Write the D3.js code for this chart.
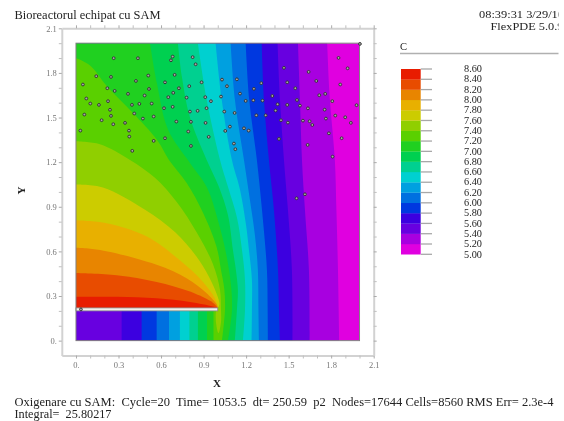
<!DOCTYPE html>
<html><head><meta charset="utf-8">
<script src="https://cdn.jsdelivr.net/npm/d3@7/dist/d3.min.js"></script>
<style>
html,body{margin:0;padding:0;background:#fff;overflow:hidden}
svg{display:block;filter:blur(0.35px)}
text{font-family:"Liberation Serif",serif;white-space:pre}
</style></head><body><svg id="c" width="564" height="421"></svg>
<script>
// ---------- text ----------
const titleText = "Bioreactorul echipat cu SAM";
const stampText = "08:39:31 3/29/10";
const versionText = "FlexPDE 5.0.9";
const legendTitle = "C";
const footerLine1 = "Oxigenare cu SAM:  Cycle=20  Time= 1053.5  dt= 250.59  p2  Nodes=17644 Cells=8560 RMS Err= 2.3e-4";
const footerLine2 = "Integral=  25.80217";
const xTitle = "X", yTitle = "Y";
// ---------- axes ----------
const tickValues = [0,.1,.2,.3,.4,.5,.6,.7,.8,.9,1,1.1,1.2,1.3,1.4,1.5,1.6,1.7,1.8,1.9,2,2.1];
const labelledTicks = [0,.3,.6,.9,1.2,1.5,1.8,2.1];
const legendLabels = [8.6,8.4,8.2,8.0,7.8,7.6,7.4,7.2,7.0,6.8,6.6,6.4,6.2,6.0,5.8,5.6,5.4,5.2,5.0];
// band colours, from 5.0-5.2 upward
const bandColors = ["#e000e0","#a800e0","#6800e0","#3c00e0","#0038e0","#0070e0","#00a0e0","#00d0d0","#00d090","#00d050","#20d020","#5ad000","#90cf00","#cccc00","#e8b000","#e88500","#e84c00","#e81c00"];
// ---------- contour boundaries [x,y]; "main" runs from top/left edge down, "under" is the branch below the plate ----------
const c52 = [[1.772,2],[1.791,1.62],[1.826,1.215],[1.837,.88],[1.848,.475],[1.857,0]];
const c54 = [[1.566,2],[1.58,1.62],[1.594,1.215],[1.615,.88],[1.643,.475],[1.648,0]];
const c56 = [[1.422,2],[1.439,1.62],[1.467,1.215],[1.495,.88],[1.523,.475],[1.527,0]];
const c58 = [[1.31,2],[1.326,1.62],[1.361,1.215],[1.396,.88],[1.425,.475],[1.432,.205],[1.439,0]];
const c60 = [[1.197,2],[1.222,1.62],[1.276,1.215],[1.312,.88],[1.347,.475],[1.352,.205],[1.354,0]];
const c62 = [[1.091,2],[1.121,1.62],[1.185,1.215],[1.227,.945],[1.262,.71],[1.283,.475],[1.287,.205],[1.291,0]];
const c64 = [[.985,2],[1.028,1.62],[1.10,1.215],[1.157,1.015],[1.199,.78],[1.22,.61],[1.241,.41],[1.241,.205],[1.239,0]];
const c66 = [[.86,2],[.922,1.62],[1.016,1.215],[1.072,1.035],[1.135,.83],[1.171,.61],[1.192,.41],[1.192,.205],[1.178,0]];
const c68 = [[.719,2],[.748,1.77],[.804,1.50],[.922,1.215],[1.008,1.035],[1.072,.845],[1.107,.61],[1.128,.475],[1.142,.34],[1.135,.205],[1.121,0]];
const c70 = [[.522,2],[.571,1.73],[.649,1.42],[.804,1.195],[.924,1.03],[1.001,.81],[1.058,.59],[1.093,.375],[1.10,.205],[1.072,0]];
const c72 = [[0,1.90],[.099,1.85],[.219,1.71],[.402,1.53],[.571,1.35],[.656,1.215],[.781,1.06],[.896,.86],[.992,.63],[1.023,.475],[1.047,.34],[1.051,.205],[1.03,0]];
const c74 = [[0,1.34],[.169,1.32],[.381,1.215],[.557,1.095],[.712,.93],[.853,.725],[.966,.515],[1.016,.34],[1.023,.205],[1.023,.125],[1.005,.05],[.987,.125],[.987,.2]];
const c76 = [[0,1.05],[.19,1.03],[.487,.88],[.698,.73],[.846,.57],[.938,.43],[.994,.31],[1.012,.245],[1,.22]];
const c78 = [[0,.81],[.216,.79],[.5,.70],[.733,.54],[.896,.395],[.98,.285],[1,.22]];
const c80 = [[0,.625],[.17,.61],[.569,.51],[.78,.42],[.92,.32],[.995,.24],[1,.22]];
const c82 = [[0,.455],[.287,.44],[.569,.395],[.804,.33],[.966,.255],[1,.22]];
const c84 = [[0,.295],[.287,.295],[.569,.285],[.804,.26],[.966,.23],[1,.22]];
const mainCurves = [c52,c54,c56,c58,c60,c62,c64,c66,c68,c70,c72,c74,c76,c78,c80,c82,c84];
// x of each contour on its branch below the plate (null: none)
const underX = [0,0,.322,.463,.569,.656,.733,.80,.86,.924,.97,null,null,null,null,null,null];
const plateLeft = 0, plateRight = 1, plateBottom = .2, plateTop = .22, domainMax = 2;
// ---------- points (particles) ----------
const pointsX = [.266,.437,.682,.670,.823,.844,.143,.247,.510,.423,.696,.049,.628,.886,.799,.221,.273,.515,.726,.367,.686,.484,.073,.226,.651,.780,.912,1.023,.101,.162,.395,.447,.534,.240,.621,.682,.804,.858,.921,.952,.059,.247,.411,.472,.548,.181,.263,.346,.708,.811,.914,.031,.374,.792,.376,.628,.548,.936,.811,.397,1.030,1.135,1.065,1.157,1.197,1.251,1.316,1.385,1.422,1.255,1.307,1.046,1.119,1.272,1.338,1.408,1.446,1.086,1.053,1.185,1.218,1.432,1.114,1.124,2.003,1.852,1.916,1.467,1.641,1.695,1.490,1.864,1.547,1.758,1.716,1.559,1.808,1.490,1.580,1.636,1.754,1.979,1.829,1.763,1.899,1.939,1.495,1.601,1.648,1.667,1.784,1.874,1.634,1.810,1.615,1.556,.035];
const pointsY = [1.899,1.899,1.910,1.885,1.906,1.858,1.778,1.773,1.782,1.746,1.787,1.722,1.737,1.737,1.711,1.697,1.679,1.692,1.697,1.659,1.666,1.648,1.628,1.610,1.637,1.634,1.637,1.641,1.594,1.585,1.585,1.592,1.594,1.552,1.563,1.572,1.540,1.545,1.563,1.610,1.520,1.511,1.527,1.493,1.507,1.482,1.455,1.464,1.473,1.471,1.464,1.412,1.412,1.406,1.372,1.361,1.343,1.370,1.309,1.276,1.755,1.757,1.711,1.661,1.612,1.616,1.614,1.645,1.589,1.693,1.731,1.540,1.531,1.515,1.515,1.547,1.482,1.439,1.410,1.428,1.412,1.356,1.325,1.287,1.995,1.901,1.831,1.834,1.807,1.746,1.737,1.722,1.697,1.659,1.650,1.618,1.610,1.585,1.580,1.562,1.553,1.583,1.513,1.493,1.502,1.464,1.466,1.479,1.475,1.450,1.394,1.361,1.316,1.237,.984,.957,.21];

const svg = d3.select("#c");
const x = d3.scaleLinear().domain([-.1,2.1]).range([61.8,373.7]);
const y = d3.scaleLinear().domain([-.1,2.1]).range([355.5,28.3]);
const lg = d3.scaleLinear().domain([5,8.6]).range([254.3,69]);
const grey = "#d2d2d2", labelGrey = "#777";

function text(s,px,py,size,opt={}){
  const t = svg.append("text").attr("x",px).attr("y",py).attr("font-size",size).attr("fill",opt.fill||"#222").text(s);
  if(opt.len) t.attr("textLength",opt.len).attr("lengthAdjust","spacingAndGlyphs");
  if(opt.anchor) t.attr("text-anchor",opt.anchor);
  if(opt.weight) t.attr("font-weight",opt.weight);
  return t;
}
// clip
const defs = svg.append("defs");
defs.append("clipPath").attr("id","plot").append("rect")
  .attr("x",x(0)).attr("y",y(domainMax)).attr("width",x(domainMax)-x(0)).attr("height",y(0)-y(domainMax));
defs.append("clipPath").attr("id","page").append("rect").attr("x",0).attr("y",0).attr("width",558.5).attr("height",421);

// axes
function styleAxis(g){
  g.select(".domain").attr("stroke",grey).attr("stroke-width",2);
  g.selectAll(".tick line").attr("stroke",d=>labelledTicks.some(v=>Math.abs(v-d)<1e-6)?"#aaa":"#c0c0c0")
    .attr("stroke-width",1);
  g.selectAll(".tick text").attr("font-family","Liberation Serif").attr("font-size",8.5).attr("fill",labelGrey);
}
const fmt = d => labelledTicks.some(v=>Math.abs(v-d)<1e-6) ? (d===0?"0.":d3.format(".1f")(d)) : "";
const none = () => "";
const ax = [
  [d3.axisBottom(x).tickValues(tickValues).tickSize(3).tickSizeOuter(0).tickPadding(3.5).tickFormat(fmt),0,y(-.1)],
  [d3.axisTop(x).tickValues(tickValues).tickSize(3).tickSizeOuter(0).tickFormat(none),0,y(2.1)],
  [d3.axisLeft(y).tickValues(tickValues).tickSize(3).tickSizeOuter(0).tickPadding(2).tickFormat(fmt),x(-.1),0],
  [d3.axisRight(y).tickValues(tickValues).tickSize(3).tickSizeOuter(0).tickFormat(none),x(2.1),0]
];
ax.forEach(([a,tx,ty])=>svg.append("g").attr("transform",`translate(${tx},${ty})`).call(a).call(styleAxis));

// filled contour bands
const plot = svg.append("g").attr("clip-path","url(#plot)");
plot.append("rect").attr("x",x(0)).attr("y",y(domainMax)).attr("width",x(domainMax)-x(0)).attr("height",y(0)-y(domainMax)).attr("fill",bandColors[0]);
const smooth = d3.line().x(d=>x(d[0])).y(d=>y(d[1])).curve(d3.curveCatmullRom.alpha(.5));
mainCurves.forEach((m,i)=>{
  let d = smooth(m);
  if(underX[i]!==null) d += "L"+x(underX[i])+","+y(0)+"L"+x(underX[i])+","+y(plateBottom);
  d += "L"+x(plateLeft)+","+y(plateTop);
  if(m[0][1]===domainMax) d += "L"+x(plateLeft)+","+y(domainMax);
  d += "Z";
  plot.append("path").attr("d",d).attr("fill",bandColors[i+1]);
});
// plate
svg.append("rect").attr("x",x(plateLeft)).attr("y",y(plateTop)).attr("width",x(plateRight)-x(plateLeft)).attr("height",y(plateBottom)-y(plateTop))
  .attr("fill","#f4f0ec").attr("stroke","#8a8a8a").attr("stroke-width",.8);
// frame
svg.append("rect").attr("x",x(0)).attr("y",y(domainMax)).attr("width",x(domainMax)-x(0)).attr("height",y(0)-y(domainMax))
  .attr("fill","none").attr("stroke","#808080").attr("stroke-width",1);
// points
svg.append("g").selectAll("circle").data(pointsX).join("circle")
  .attr("cx",d=>x(d)).attr("cy",(d,i)=>y(pointsY[i])).attr("r",1.4)
  .attr("fill","#a8a8a8").attr("stroke","#303030").attr("stroke-width",.9);

// legend
const lgBands = legendLabels.slice(1).reverse();
svg.append("g").selectAll("rect").data(lgBands).join("rect")
  .attr("x",401).attr("width",19.7)
  .attr("y",d=>lg(d+.2)).attr("height",d=>lg(d)-lg(d+.2)+.2)
  .attr("fill",(d,i)=>bandColors[i]);
svg.append("g").selectAll("line").data(legendLabels).join("line")
  .attr("x1",420.7).attr("x2",432).attr("y1",d=>lg(d)).attr("y2",d=>lg(d))
  .attr("stroke","#a8a8a8").attr("stroke-width",1.3);
svg.append("g").selectAll("text").data(legendLabels).join("text")
  .attr("x",464).attr("y",d=>lg(d)+3.2).attr("font-size",9.5).attr("fill","#222")
  .attr("textLength",18).attr("lengthAdjust","spacingAndGlyphs").text(d=>d.toFixed(2));
svg.append("line").attr("x1",400).attr("x2",558.5).attr("y1",53.5).attr("y2",53.5).attr("stroke","#b0b0b0").attr("stroke-width",1.6);
text(legendTitle,400,49.5,10.5);

// texts
text(titleText,14.5,18.5,11.5,{len:146});
const hdr = svg.append("g").attr("clip-path","url(#page)");
hdr.append("text").attr("x",479).attr("y",18).attr("font-size",11).attr("fill","#222").attr("textLength",85).attr("lengthAdjust","spacingAndGlyphs").text(stampText);
hdr.append("text").attr("x",490.5).attr("y",29.5).attr("font-size",11).attr("fill","#222").attr("textLength",73).attr("lengthAdjust","spacingAndGlyphs").text(versionText);
text(xTitle,217,387,11,{anchor:"middle",weight:"bold"});
svg.append("text").attr("transform","translate(25,190.5) rotate(-90)").attr("text-anchor","middle").attr("font-size",11).attr("font-weight","bold").attr("fill","#222").text(yTitle);
text(footerLine1,14.5,405.5,11.5,{len:539});
text(footerLine2,14.5,418,11.5,{len:97});
</script></body></html>
